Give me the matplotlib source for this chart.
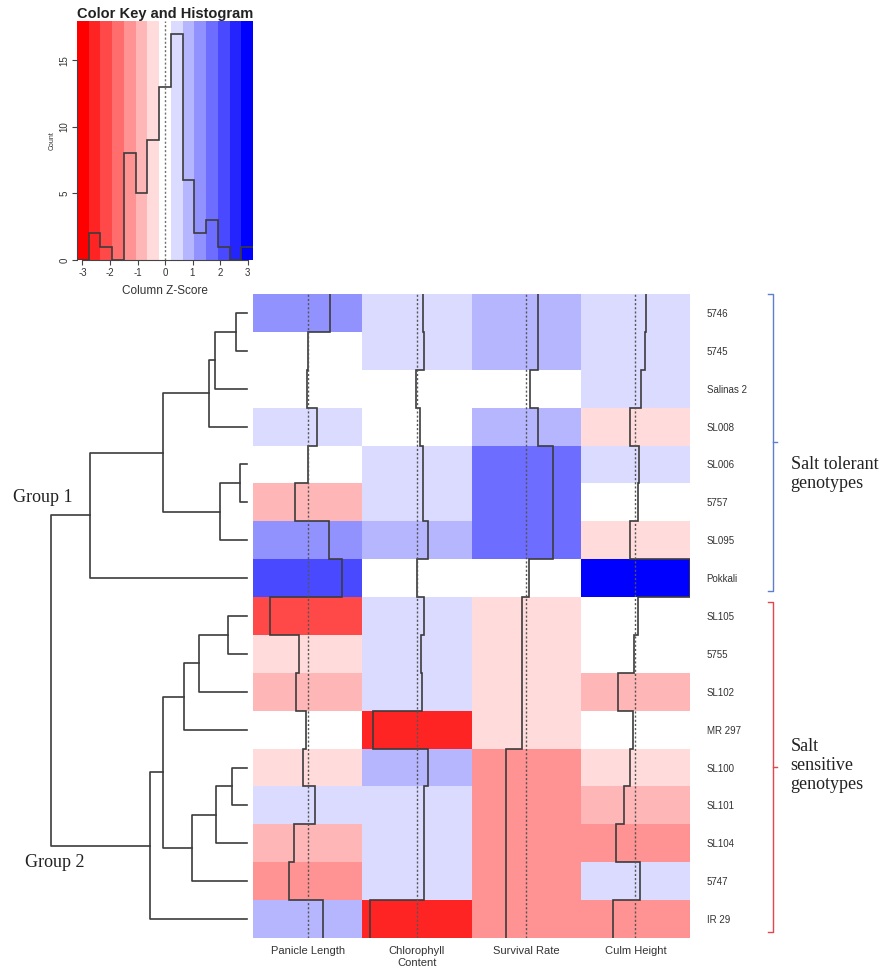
import numpy as np
import matplotlib.pyplot as plt
from matplotlib.colors import ListedColormap, BoundaryNorm
from matplotlib.transforms import blended_transform_factory

plt.rcParams['font.family'] = ['Liberation Sans', 'DejaVu Sans']
plt.rcParams['axes.unicode_minus'] = False

genotypes = ['5746', '5745', 'Salinas 2', 'SL008', 'SL006', '5757', 'SL095', 'Pokkali',
             'SL105', '5755', 'SL102', 'MR 297', 'SL100', 'SL101', 'SL104', '5747', 'IR 29']
traits = ['Panicle Length', 'Chlorophyll\nContent', 'Survival Rate', 'Culm Height']

# column z-scores, rows in genotype order
panicle_length = [1.29, 0.0, -0.04, 0.55, 0.04, -0.72, 1.23, 2.0, -2.19,
                  -0.49, -0.7, -0.1, -0.3, 0.45, -0.78, -1.1, 0.88]
chlorophyll_content = [0.35, 0.4, -0.04, 0.16, 0.35, 0.35, 0.68, 0.02, 0.41,
                       0.25, 0.29, -2.58, 0.68, 0.41, 0.41, 0.41, -2.73]
survival_rate = [0.7, 0.7, 0.2, 0.7, 1.56, 1.56, 1.56, 0.16, -0.23,
                 -0.23, -0.23, -0.23, -1.17, -1.17, -1.17, -1.17, -1.17]
culm_height = [0.6, 0.55, 0.33, -0.29, 0.23, 0.14, -0.31, 3.2, 0.14,
               -0.1, -1.03, -0.12, -0.31, -0.68, -1.13, 0.29, -1.29]

# row dendrogram: (left, right, height); leaves are 0-16, merged nodes get ids from 17 on
merges = [(0, 1, 11), (17, 2, 32), (18, 3, 38), (4, 5, 7), (20, 6, 27), (19, 21, 84),
          (22, 7, 157), (8, 9, 19), (24, 10, 48), (25, 11, 63), (12, 13, 15), (27, 14, 31),
          (28, 15, 55), (26, 29, 84), (30, 16, 97), (23, 31, 196)]

groups = ['Salt tolerant\ngenotypes', 'Salt\nsensitive\ngenotypes']
group_rows = [(0, 8), (8, 17)]
group_colors = ['#5d7fd0', '#e5464e']

z = np.column_stack([panicle_length, chlorophyll_content, survival_rate, culm_height])
n_rows, n_cols = z.shape

z_lim = 3.2
n_bands = 15
breaks = np.linspace(-z_lim, z_lim, n_bands + 1)
half = np.linspace(0, 1, n_bands // 2 + 1)
cmap = ListedColormap([(1, t, t) for t in half] + [(1 - t, 1 - t, 1) for t in half[1:]])
norm = BoundaryNorm(breaks, cmap.N, clip=True)

W, H = 881, 967
fig = plt.figure(figsize=(W / 100, H / 100), dpi=100)


def px_axes(x0, y0, x1, y1):
    return fig.add_axes([x0 / W, 1 - y1 / H, (x1 - x0) / W, (y1 - y0) / H])


line_col = '#3c3c3c'
text_col = '#333333'

# heatmap with column traces
ax = px_axes(253, 294, 690, 938)
ax.pcolormesh(np.arange(n_cols + 1), np.arange(n_rows + 1), z, cmap=cmap, norm=norm)
row_edges = np.arange(n_rows + 1)
for j in range(n_cols):
    ax.axvline(j + 0.5, color='#555555', lw=1, ls=(0, (1.5, 1.5)))
    ax.stairs(j + (z[:, j] + z_lim) / (2 * z_lim), row_edges, orientation='horizontal',
              baseline=None, color=line_col, lw=1.2)
ax.set_xlim(0, n_cols)
ax.set_ylim(n_rows, 0)
for s in ax.spines.values():
    s.set_visible(False)
ax.yaxis.tick_right()
ax.set_yticks(np.arange(n_rows) + 0.5, genotypes, fontsize=7, color=text_col)
ax.set_xticks(np.arange(n_cols) + 0.5, traits, fontsize=8, color=text_col)
ax.tick_params(axis='y', length=0, pad=12)
ax.tick_params(axis='x', length=0, pad=6)

# group brackets
tr = blended_transform_factory(ax.transAxes, ax.transData)
bx, hook = 1.19, 0.012
label_rows = [4.75, 12.45]
for (r0, r1), label, col, ly in zip(group_rows, groups, group_colors, label_rows):
    y0, y1 = r0 + (0.0 if r0 == 0 else 0.13), r1 - 0.17
    ym = (y0 + y1) / 2
    ax.plot([bx - hook, bx, bx, bx - hook], [y0, y0, y1, y1], color=col, lw=1,
            transform=tr, clip_on=False)
    ax.plot([bx, bx + 0.008], [ym, ym], color=col, lw=1, transform=tr, clip_on=False)
    ax.text(bx + 0.04, ly, label, transform=tr, ha='left', va='center', fontsize=13,
            family='Liberation Serif', color='#222222', linespacing=1.15)

# row dendrogram
dx = px_axes(0, 294, 253, 938)
pos = {i: i + 0.5 for i in range(n_rows)}
hgt = {i: 0 for i in range(n_rows)}
for k, (a, b, h) in enumerate(merges):
    dx.plot([hgt[a], h, h, hgt[b]], [pos[a], pos[a], pos[b], pos[b]], color=line_col, lw=1.2)
    pos[n_rows + k] = (pos[a] + pos[b]) / 2
    hgt[n_rows + k] = h
dx.set_xlim(247, -6)
dx.set_ylim(n_rows, 0)
dx.axis('off')
dx.text(234, 5.36, 'Group 1', ha='left', va='center', fontsize=13,
        family='Liberation Serif', color='#222222')
dx.text(222, 15.0, 'Group 2', ha='left', va='center', fontsize=13,
        family='Liberation Serif', color='#222222')

# color key and histogram
kx = px_axes(77, 21, 253, 260)
counts, _ = np.histogram(z.ravel(), bins=breaks)
y_top = 17.95
mids = (breaks[:-1] + breaks[1:]) / 2
kx.pcolormesh(breaks, [0, y_top], mids[None, :], cmap=cmap, norm=norm)
kx.axvline(0, color='#707070', lw=1, ls=(0, (1.5, 1.5)))
kx.stairs(counts, breaks, baseline=None, color=line_col, lw=1.2)
kx.set_xlim(-z_lim, z_lim)
kx.set_ylim(0, y_top)
for s in ['top', 'right']:
    kx.spines[s].set_visible(False)
kx.spines['left'].set_bounds(0, 15)
kx.spines['bottom'].set_bounds(-3, 3)
for s in ['left', 'bottom']:
    kx.spines[s].set_color('#444444')
kx.set_xticks(range(-3, 4))
kx.set_yticks([0, 5, 10, 15])
kx.tick_params(colors='#444444', labelcolor=text_col, labelsize=7, length=3.5, pad=2)
kx.tick_params(axis='y', labelrotation=90)
for t in kx.get_yticklabels():
    t.set_va('center')
kx.set_ylabel('Count', fontsize=5, color=text_col, labelpad=3)
kx.set_xlabel('Column Z-Score', fontsize=8.5, color=text_col, labelpad=5)
kx.set_title('Color Key and Histogram', fontsize=10.5, fontweight='bold', pad=1,
             color='#222222')

fig.savefig('out.png', dpi=100)
